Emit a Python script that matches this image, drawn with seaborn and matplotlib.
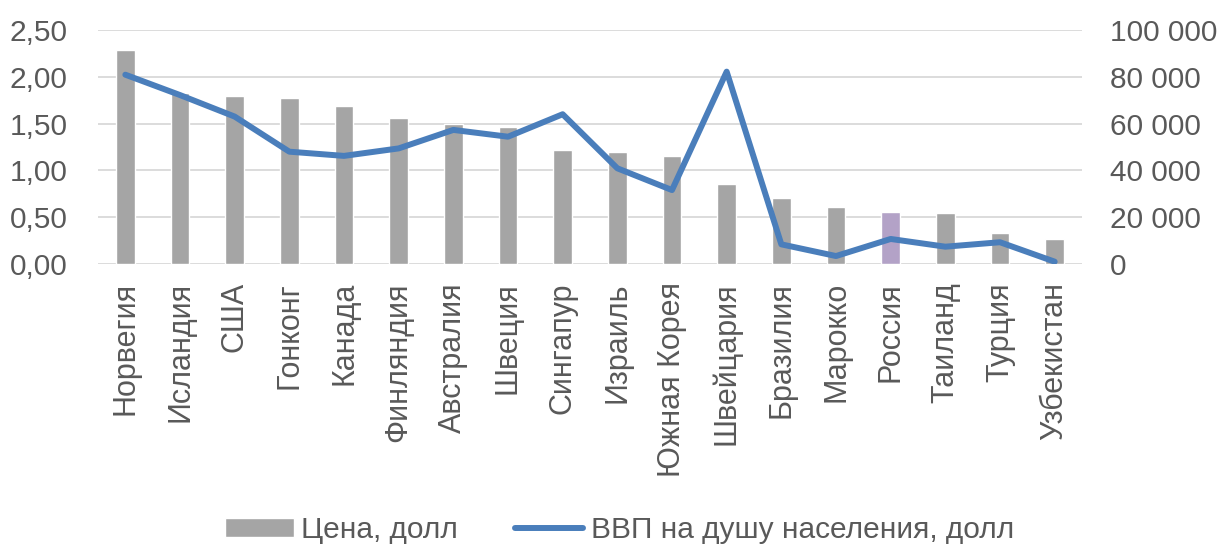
import matplotlib
matplotlib.use("Agg")
import matplotlib.pyplot as plt
import seaborn as sns
import numpy as np
from matplotlib.patches import Patch
from matplotlib.lines import Line2D
from matplotlib.ticker import FuncFormatter

countries = ["Норвегия", "Исландия", "США", "Гонконг", "Канада", "Финляндия",
             "Австралия", "Швеция", "Сингапур", "Израиль", "Южная Корея",
             "Швейцария", "Бразилия", "Марокко", "Россия", "Таиланд", "Турция",
             "Узбекистан"]
price = [2.29, 1.83, 1.79, 1.77, 1.69, 1.56, 1.50, 1.46, 1.22, 1.20, 1.15,
         0.86, 0.71, 0.61, 0.56, 0.54, 0.33, 0.27]
gdp = [80900, 72200, 63000, 48000, 46200, 49400, 57300, 54400, 64000, 40900,
       31600, 82200, 8400, 3400, 10700, 7400, 9300, 1000]

sns.set_theme(style="white")
plt.rcParams['font.family'] = ['Liberation Sans', 'DejaVu Sans']
fs = 22

grey = "#A5A5A5"
purple = "#B3A2C7"
blue = "#4A7EBB"
txt = "#595959"
colors = [purple if c == "Россия" else grey for c in countries]

fig = plt.figure(figsize=(12.22, 5.5), dpi=100)
ax = fig.add_axes([98/1222, 1 - 264/550, (1082-98)/1222, (264-30)/550])

sns.barplot(x=countries, y=price, hue=countries, palette=colors, legend=False,
            width=0.34, ax=ax, saturation=1)
ax.set_ylim(0, 2.5)
ax.set_yticks(np.arange(0, 2.51, 0.5))
ax.yaxis.set_major_formatter(FuncFormatter(lambda v, p: f"{v:.2f}".replace(".", ",")))
ax.grid(axis="y", color="#D9D9D9", linewidth=1.3)
ax.set_axisbelow(True)
for s in ax.spines.values():
    s.set_visible(False)
ax.tick_params(axis="y", labelsize=fs - 0.5, colors=txt, length=0, pad=22)
ax.tick_params(axis="x", labelsize=fs, colors=txt, length=0, pad=13)
plt.setp(ax.get_xticklabels(), rotation=90)
ax.set_xlim(-0.5, len(countries) - 0.5)
ax.set_xlabel("")

ax2 = ax.twinx()
sns.lineplot(x=np.arange(len(countries)), y=gdp, ax=ax2, color=blue, linewidth=4.3)
ax2.set_ylim(0, 100000)
ax2.set_yticks(np.arange(0, 100001, 20000))
ax2.yaxis.set_major_formatter(FuncFormatter(lambda v, p: f"{int(v):,}".replace(",", " ")))
ax2.tick_params(axis="y", labelsize=fs - 0.5, colors=txt, length=0, pad=20)
for s in ax2.spines.values():
    s.set_visible(False)
ax2.grid(False)
ax2.set_xlim(-0.5, len(countries) - 0.5)

handles = [Patch(facecolor=grey, label="Цена, долл"),
           Line2D([0], [0], color=blue, linewidth=4.3, label="ВВП на душу населения, долл")]
fig.legend(handles=handles, loc="center", bbox_to_anchor=(0.507, 1 - 530/550), ncol=2,
           frameon=False, fontsize=fs - 0.5, labelcolor=txt, handlelength=2.3, handleheight=0.6,
           columnspacing=1.9, handletextpad=0.25)

fig.savefig("out.png", dpi=100)
